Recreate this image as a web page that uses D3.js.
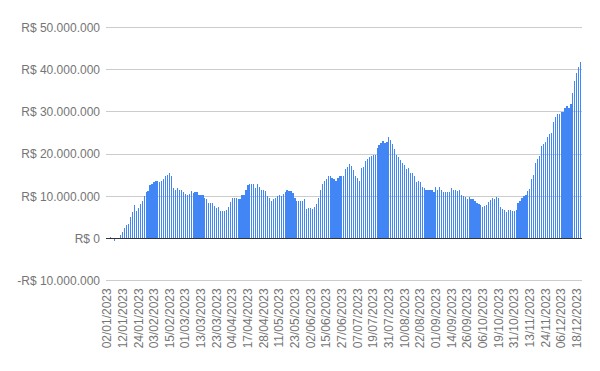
<!DOCTYPE html>
<html lang="pt-BR">
<head>
<meta charset="utf-8">
<script src="https://cdn.jsdelivr.net/npm/d3@7"></script>
<style>
  body { margin: 0; background: #fff; }
  svg { display: block; font-family: "Liberation Sans", Arial, sans-serif; }
  .tick text { fill: #757575; font-size: 12px; }
</style>
</head>
<body>
<script>

// dias úteis de 2023 (sem feriados nacionais)
var datas = [
  "02/01/2023","03/01/2023","04/01/2023","05/01/2023","06/01/2023","09/01/2023","10/01/2023","11/01/2023","12/01/2023","13/01/2023","16/01/2023","17/01/2023","18/01/2023","19/01/2023","20/01/2023","23/01/2023","24/01/2023","25/01/2023","26/01/2023","27/01/2023","30/01/2023","31/01/2023",
  "01/02/2023","02/02/2023","03/02/2023","06/02/2023","07/02/2023","08/02/2023","09/02/2023","10/02/2023","13/02/2023","14/02/2023","15/02/2023","16/02/2023","17/02/2023","22/02/2023","23/02/2023","24/02/2023","27/02/2023","28/02/2023",
  "01/03/2023","02/03/2023","03/03/2023","06/03/2023","07/03/2023","08/03/2023","09/03/2023","10/03/2023","13/03/2023","14/03/2023","15/03/2023","16/03/2023","17/03/2023","20/03/2023","21/03/2023","22/03/2023","23/03/2023","24/03/2023","27/03/2023","28/03/2023","29/03/2023","30/03/2023","31/03/2023",
  "03/04/2023","04/04/2023","05/04/2023","06/04/2023","10/04/2023","11/04/2023","12/04/2023","13/04/2023","14/04/2023","17/04/2023","18/04/2023","19/04/2023","20/04/2023","24/04/2023","25/04/2023","26/04/2023","27/04/2023","28/04/2023",
  "02/05/2023","03/05/2023","04/05/2023","05/05/2023","08/05/2023","09/05/2023","10/05/2023","11/05/2023","12/05/2023","15/05/2023","16/05/2023","17/05/2023","18/05/2023","19/05/2023","22/05/2023","23/05/2023","24/05/2023","25/05/2023","26/05/2023","29/05/2023","30/05/2023","31/05/2023",
  "01/06/2023","02/06/2023","05/06/2023","06/06/2023","07/06/2023","09/06/2023","12/06/2023","13/06/2023","14/06/2023","15/06/2023","16/06/2023","19/06/2023","20/06/2023","21/06/2023","22/06/2023","23/06/2023","26/06/2023","27/06/2023","28/06/2023","29/06/2023","30/06/2023",
  "03/07/2023","04/07/2023","05/07/2023","06/07/2023","07/07/2023","10/07/2023","11/07/2023","12/07/2023","13/07/2023","14/07/2023","17/07/2023","18/07/2023","19/07/2023","20/07/2023","21/07/2023","24/07/2023","25/07/2023","26/07/2023","27/07/2023","28/07/2023","31/07/2023",
  "01/08/2023","02/08/2023","03/08/2023","04/08/2023","07/08/2023","08/08/2023","09/08/2023","10/08/2023","11/08/2023","14/08/2023","15/08/2023","16/08/2023","17/08/2023","18/08/2023","21/08/2023","22/08/2023","23/08/2023","24/08/2023","25/08/2023","28/08/2023","29/08/2023","30/08/2023","31/08/2023",
  "01/09/2023","04/09/2023","05/09/2023","06/09/2023","08/09/2023","11/09/2023","12/09/2023","13/09/2023","14/09/2023","15/09/2023","18/09/2023","19/09/2023","20/09/2023","21/09/2023","22/09/2023","25/09/2023","26/09/2023","27/09/2023","28/09/2023","29/09/2023",
  "02/10/2023","03/10/2023","04/10/2023","05/10/2023","06/10/2023","09/10/2023","10/10/2023","11/10/2023","13/10/2023","16/10/2023","17/10/2023","18/10/2023","19/10/2023","20/10/2023","23/10/2023","24/10/2023","25/10/2023","26/10/2023","27/10/2023","30/10/2023","31/10/2023",
  "01/11/2023","03/11/2023","06/11/2023","07/11/2023","08/11/2023","09/11/2023","10/11/2023","13/11/2023","14/11/2023","16/11/2023","17/11/2023","20/11/2023","21/11/2023","22/11/2023","23/11/2023","24/11/2023","27/11/2023","28/11/2023","29/11/2023","30/11/2023",
  "01/12/2023","04/12/2023","05/12/2023","06/12/2023","07/12/2023","08/12/2023","11/12/2023","12/12/2023","13/12/2023","14/12/2023","15/12/2023","18/12/2023","19/12/2023","20/12/2023"
];

// saldo acumulado, em milhões de R$
var saldoMi = [
  -0.3, 0.1, 0.3, 0, -0.6, -0.3, 0, 0.8, 1.4, 2.4, 3.1, 3.3, 4.9, 6.1, 7.8, 6.4, 7.1, 8.1, 8.9, 10.0, 10.8, 11.1,
  12.5, 12.9, 13.4, 13.6, 13.6, 13.4, 13.6, 14.1, 14.6, 15.0, 15.3, 14.8, 11.8, 11.3, 11.8, 11.3, 11.3, 10.8,
  10.4, 10.1, 10.4, 11.1, 10.6, 10.8, 10.8, 10.1, 10.1, 10.1, 9.6, 9.2, 8.2, 8.2, 8.2, 7.5, 7.1, 7.3, 6.4, 6.4, 6.4, 6.6, 7.3,
  8.5, 9.4, 9.6, 9.4, 9.2, 9.2, 10.1, 10.1, 11.3, 12.5, 12.7, 12.9, 12.9, 11.8, 12.7, 12.0, 11.5, 11.3,
  11.1, 9.9, 9.4, 8.9, 9.2, 9.4, 9.9, 10.1, 9.9, 10.4, 10.8, 11.5, 11.1, 11.1, 10.6, 9.6, 8.9, 8.9, 8.9, 8.9, 9.2, 6.8,
  7.1, 7.1, 6.8, 7.3, 8.0, 9.6, 11.3, 12.9, 13.6, 14.1, 14.6, 14.6, 14.3, 14.1, 13.6, 14.3, 14.6, 14.6, 14.6, 16.4, 16.9,
  17.6, 17.1, 16.2, 14.8, 14.3, 13.6, 16.7, 16.9, 18.3, 18.8, 19.2, 19.5, 19.7, 19.7, 21.3, 22.0, 22.5, 23.0, 22.5, 22.7, 23.9,
  23.2, 22.3, 21.1, 19.7, 19.2, 18.5, 17.8, 17.3, 16.4, 16.7, 15.5, 15.5, 14.8, 13.4, 13.6, 13.2, 12.2, 11.8, 11.3, 11.3, 11.5, 11.5, 10.8,
  12.0, 11.5, 12.0, 11.5, 10.8, 10.8, 10.8, 10.8, 11.8, 11.5, 11.3, 11.1, 11.3, 10.1, 10.0, 9.8, 9.3, 9.8, 9.3, 9.3,
  8.8, 8.3, 8.1, 7.9, 7.4, 7.6, 7.9, 8.6, 9.0, 9.5, 9.3, 9.8, 9.5, 7.4, 6.9, 6.7, 6.2, 6.7, 6.7, 6.4, 6.4,
  6.7, 8.3, 8.8, 9.5, 10.0, 10.2, 11.1, 11.6, 13.9, 14.9, 17.7, 18.7, 19.4, 21.7, 22.4, 22.7, 23.9, 24.6, 24.8, 27.4,
  28.6, 29.3, 29.5, 29.8, 29.8, 30.7, 31.4, 30.7, 31.7, 34.3, 37.1, 39.0, 40.6, 41.6
];

var ticksY = [-10, 0, 10, 20, 30, 40, 50];

// uma data rotulada a cada 8 dias úteis
var rotulosX = datas.filter(function(d, i) { return i % 8 === 0; });

var width = 600, height = 371;
var plot = {left: 106, right: 581.7, top: 27, bottom: 280.3};

var brl = d3.formatLocale({
  decimal: ",", thousands: ".", grouping: [3], currency: ["R$ ", ""], minus: "-"
}).format("$,.0f");

var svg = d3.select("body").append("svg")
  .attr("width", width)
  .attr("height", height);

svg.append("rect").attr("width", width).attr("height", height).attr("fill", "#fff");

var x = d3.scaleBand()
  .domain(datas)
  .range([plot.left, plot.right])
  .paddingInner(0.382)
  .paddingOuter(0.191);

var y = d3.scaleLinear()
  .domain([-10, 50])
  .range([plot.bottom, plot.top]);

// grade + rótulos do eixo Y
var eixoY = svg.append("g")
  .attr("transform", "translate(" + plot.left + ",0)")
  .call(d3.axisLeft(y)
    .tickValues(ticksY)
    .tickSize(-(plot.right - plot.left))
    .tickPadding(6)
    .tickFormat(function(d) { return brl(d * 1e6); }));

eixoY.select(".domain").remove();
eixoY.selectAll(".tick line")
  .attr("stroke", "#cccccc")
  .attr("shape-rendering", "crispEdges");
eixoY.selectAll(".tick text").attr("dy", "0.35em");

// barras
var dados = datas.map(function(d, i) { return {data: d, valor: saldoMi[i]}; });

svg.append("g")
  .selectAll("rect")
  .data(dados)
  .enter().append("rect")
  .attr("x", function(d) { return x(d.data); })
  .attr("width", x.bandwidth())
  .attr("y", function(d) { return y(Math.max(0, d.valor)); })
  .attr("height", function(d) { return Math.abs(y(d.valor) - y(0)); })
  .attr("fill", "#4285f4")
  .attr("shape-rendering", "crispEdges");

// linha do zero
svg.append("line")
  .attr("x1", plot.left)
  .attr("x2", plot.right)
  .attr("y1", y(0))
  .attr("y2", y(0))
  .attr("stroke", "#333")
  .attr("stroke-width", 1)
  .attr("shape-rendering", "crispEdges");

// eixo X com datas giradas
var eixoX = svg.append("g")
  .attr("transform", "translate(0," + plot.bottom + ")")
  .call(d3.axisBottom(x).tickValues(rotulosX).tickSize(0));

eixoX.select(".domain").remove();
eixoX.selectAll(".tick text")
  .attr("transform", "rotate(-90)")
  .attr("text-anchor", "end")
  .attr("x", -8)
  .attr("y", 0)
  .attr("dy", "0.35em");

</script>
</body>
</html>
